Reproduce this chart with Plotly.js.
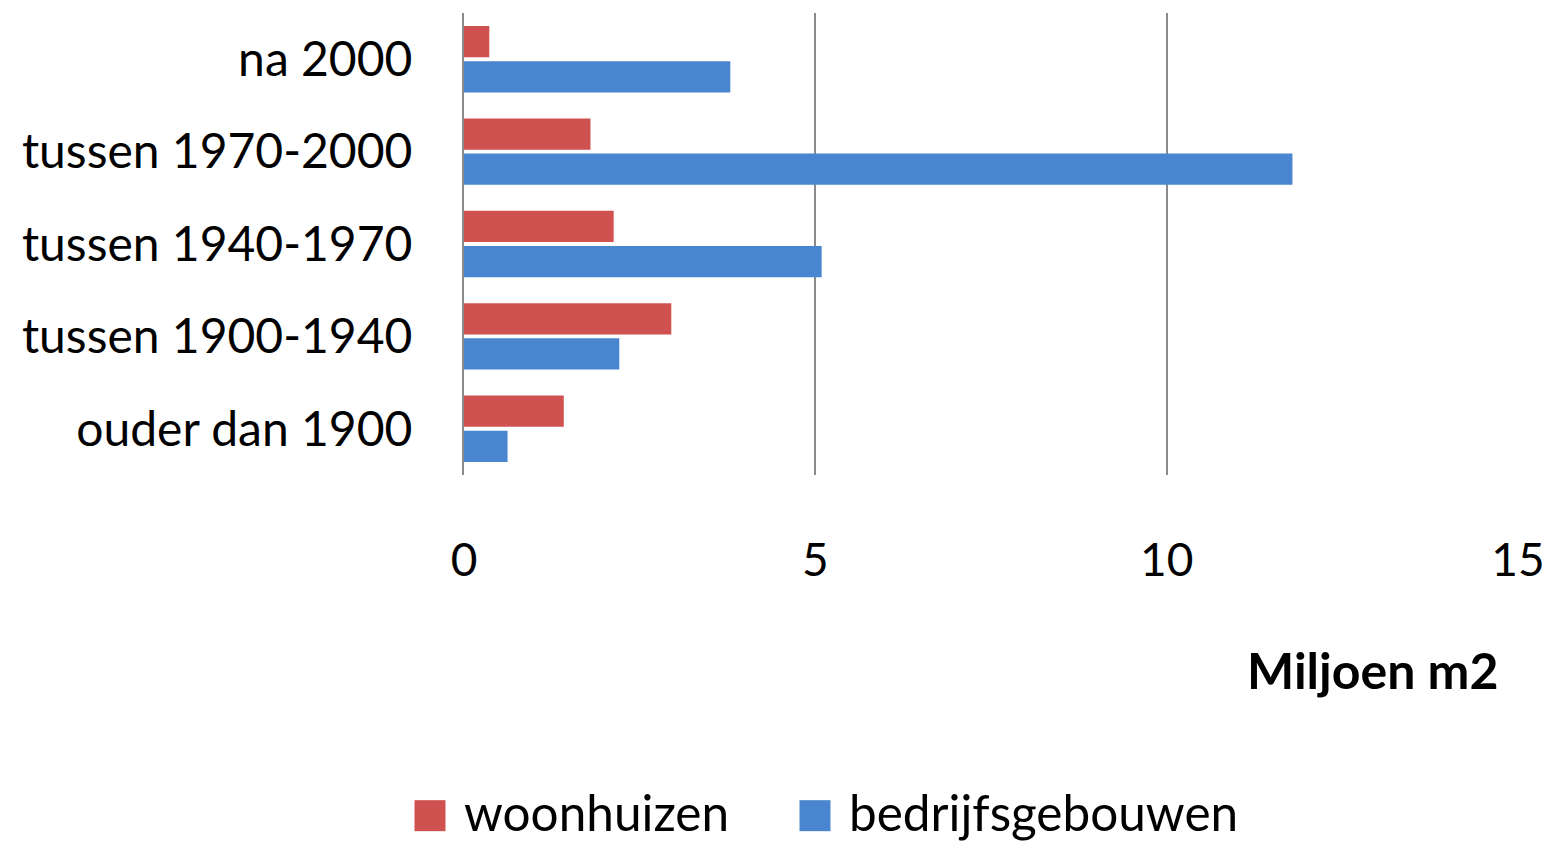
<!DOCTYPE html>
<html>
<head>
<meta charset="utf-8">
<script src="https://cdn.plot.ly/plotly-3.0.1.min.js"></script>
<style>
html,body{margin:0;padding:0;background:#fff;}
#chart{width:1552px;height:842px;}
</style>
</head>
<body>
<div id="chart"></div>
<script>
// Categories (top to bottom as shown)
const categories = ["na 2000", "tussen 1970-2000", "tussen 1940-1970", "tussen 1900-1940", "ouder dan 1900"];
// Values in miljoen m2
const woonhuizen = [0.36, 1.80, 2.13, 2.95, 1.42];
const bedrijfsgebouwen = [3.79, 11.79, 5.09, 2.21, 0.62];
const seriesNames = ["woonhuizen", "bedrijfsgebouwen"];
const xTicks = [0, 5, 10, 15];
const axisTitle = "Miljoen m2";

const FONT = "Lato, 'Open Sans', sans-serif";

const traces = [
  {
    type: "bar", orientation: "h",
    name: seriesNames[0],
    y: categories, x: woonhuizen,
    marker: {color: "#CF5250"},
    legend: "legend",
    hoverinfo: "x+name"
  },
  {
    type: "bar", orientation: "h",
    name: seriesNames[1],
    y: categories, x: bedrijfsgebouwen,
    marker: {color: "#4A86CF"},
    legend: "legend2",
    hoverinfo: "x+name"
  }
];

const legendBase = {
  orientation: "h",
  xref: "paper", xanchor: "left",
  yref: "container",
  y: (842 - 812) / 842, yanchor: "middle",
  font: {family: FONT, size: 49.5, color: "#000"},
  itemwidth: 30,
  tracegroupgap: 0,
  bgcolor: "rgba(0,0,0,0)"
};

const layout = {
  width: 1552, height: 842,
  margin: {l: 464, r: 34, t: 13, b: 367, pad: 0},
  paper_bgcolor: "#fff", plot_bgcolor: "#fff",
  barmode: "group",
  bargap: 0.24,
  bargroupgap: 0.11,
  font: {family: FONT, color: "#000", size: 46},
  xaxis: {
    range: [0, 15],
    tickvals: xTicks,
    ticktext: xTicks.map(String),
    showgrid: true, gridcolor: "#8a8a8a", gridwidth: 2,
    zeroline: false, showline: false,
    ticks: "", ticklabelstandoff: 54,
    tickfont: {family: FONT, size: 46, color: "#000"},
    automargin: false,
    fixedrange: true
  },
  yaxis: {
    type: "category",
    categoryorder: "array", categoryarray: categories,
    autorange: "reversed",
    showgrid: false, zeroline: false,
    showline: true, linecolor: "#8a8a8a", linewidth: 2,
    ticks: "", ticklabelstandoff: 40,
    tickfont: {family: FONT, size: 48, color: "#000"},
    automargin: false,
    fixedrange: true
  },
  legend: Object.assign({}, legendBase, {x: (424 - 464) / 1054}),
  legend2: Object.assign({}, legendBase, {x: (809 - 464) / 1054}),
  annotations: [{
    text: "<b>" + axisTitle + "</b>",
    xref: "paper", yref: "paper",
    x: 1036/1054, xanchor: "right",
    y: -(670-475)/462, yanchor: "middle",
    showarrow: false,
    font: {family: FONT, size: 50, color: "#000"}
  }],
  showlegend: true
};

Plotly.newPlot("chart", traces, layout, {displayModeBar: false, staticPlot: true}).then(function (gd) {
  // let the enlarged keys extend past the legend box edges (both legends)
  gd.querySelectorAll(".legend, .legend2").forEach(function (lg) {
    lg.removeAttribute("clip-path");
    lg.querySelectorAll("[clip-path]").forEach(function (e) {
      e.removeAttribute("clip-path");
    });
  });
  // enlarge legend swatches to the reference's large square keys (31px)
  gd.querySelectorAll(".legendpoints path").forEach(function (p) {
    const t = p.getAttribute("transform") || "";
    p.setAttribute("d", "M-15.5,-15.5H15.5V15.5H-15.5Z");
    p.setAttribute("transform", t + " translate(-14,4)");
  });
});
</script>
</body>
</html>
